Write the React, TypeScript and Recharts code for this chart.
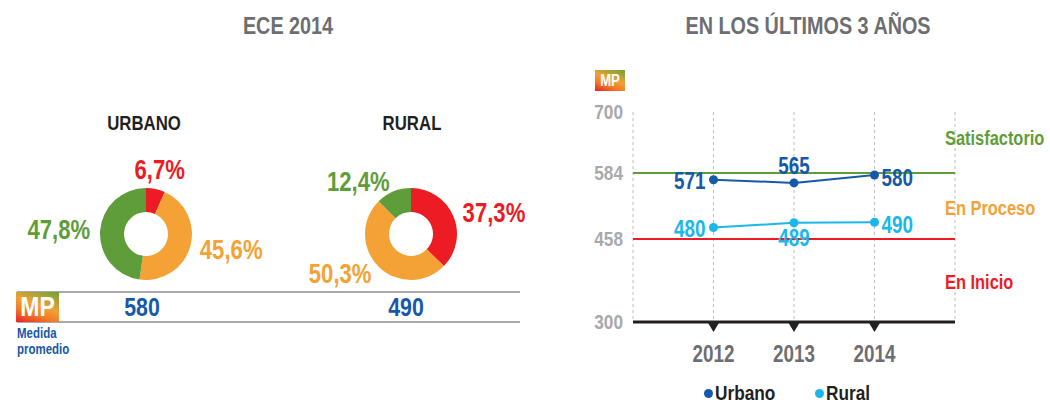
import { PieChart, Pie, Cell, LineChart, Line, XAxis, YAxis, CartesianGrid, ReferenceLine, LabelList, Legend } from 'recharts';

// no condensed face is installed, so a bold sans is squeezed horizontally
const FONT = "'Liberation Sans', Arial, sans-serif";
const SX = 0.82;

const GREEN = '#5f9d3a';
const ORANGE = '#f4a235';
const RED = '#ed1c24';
const BLUE = '#1659a8';
const LIGHT = '#1bb7ea';
const GRAY = '#6d6e71';

// achievement levels (ECE 2014, % of students)
const levels = ['En Inicio', 'En Proceso', 'Satisfactorio'];
const levelColors = [RED, ORANGE, GREEN];
const urbanoPct = [6.7, 45.6, 47.8];
const ruralPct = [37.3, 50.3, 12.4];

const areas = ['URBANO', 'RURAL'];
const areaMP = [580, 490];

// medida promedio, last 3 years
const years = [2012, 2013, 2014];
const urbanoMP = [571, 565, 580];
const ruralMP = [480, 489, 490];
const yTicks = [300, 458, 584, 700];
const cutSatisfactorio = 584;
const cutProceso = 458;

const seriesNames = ['Urbano', 'Rural'];
const seriesColors = [BLUE, LIGHT];

const urbanoData = levels.map((name, i) => ({ name, value: urbanoPct[i] }));
const ruralData = levels.map((name, i) => ({ name, value: ruralPct[i] }));
const lineData = years.map((year, i) => ({ year, urbano: urbanoMP[i], rural: ruralMP[i] }));

const RAD = Math.PI / 180;

// svg text squeezed around its anchor point
function NText({ x, y, anchor = 'middle', size, color, children }: any) {
  return (
    <text
      transform={`translate(${x},${y}) scale(${SX},1)`}
      x={0}
      y={0}
      textAnchor={anchor}
      dominantBaseline="central"
      fill={color}
      fontSize={size}
      fontWeight={700}
      fontFamily={FONT}
    >
      {children}
    </text>
  );
}

function pieLabel(props: any) {
  const { cx, cy, midAngle, outerRadius, index, value } = props;
  const c = Math.cos(-midAngle * RAD);
  const s = Math.sin(-midAngle * RAD);
  const anchor = Math.abs(c) < 0.3 ? 'middle' : c > 0 ? 'start' : 'end';
  const r = outerRadius + (anchor === 'middle' ? 20 : 10);
  return (
    <NText x={cx + r * c} y={cy + r * s} anchor={anchor} size={27} color={levelColors[index]}>
      {Number(value).toFixed(1).replace('.', ',')}%
    </NText>
  );
}

function YearTick({ x, y, payload }: any) {
  return (
    <g>
      <polygon points={`${x - 6},${y} ${x + 6},${y} ${x},${y + 10}`} fill="#231f20" />
      <NText x={x} y={y + 32} size={23} color={GRAY}>{payload.value}</NText>
    </g>
  );
}

function ValueTick({ x, y, payload }: any) {
  return <NText x={x} y={y} anchor="end" size={21} color="#a7a9ac">{payload.value}</NText>;
}

// where each value label sits around its dot
const urbanoPlaces = ['left', 'top', 'right'];
const ruralPlaces = ['left', 'bottom', 'right'];

const pointLabel = (color: string, places: string[]) => (props: any) => {
  const { x, y, value, index } = props;
  const p = places[index];
  let tx = x, ty = y, anchor = 'middle';
  if (p === 'left') { tx = x - 8; ty = y + 1; anchor = 'end'; }
  if (p === 'right') { tx = x + 7; ty = y + 3; anchor = 'start'; }
  if (p === 'top') { ty = y - 17; }
  if (p === 'bottom') { ty = y + 15; }
  return <NText x={tx} y={ty} anchor={anchor} size={23} color={color}>{value}</NText>;
};

function LegendContent() {
  return (
    <div style={{ display: 'flex', gap: 26, marginLeft: 124, height: 34, paddingTop: 8, boxSizing: 'border-box', alignItems: 'center' }}>
      {seriesNames.map((n, i) => (
        <div key={n} style={{ display: 'flex', alignItems: 'center', gap: 2 }}>
          <span style={{ width: 9, height: 9, borderRadius: 5, background: seriesColors[i], display: 'inline-block' }} />
          <span style={{ fontSize: 21, fontWeight: 700, color: '#231f20', fontFamily: FONT, display: 'inline-block', transform: `scaleX(${SX})`, transformOrigin: 'left center' }}>{n}</span>
        </div>
      ))}
    </div>
  );
}

function Txt({ x, y, size, color, anchor = 'middle', sx = SX, children }: any) {
  const w = 400;
  const left = anchor === 'middle' ? x - w / 2 : anchor === 'end' ? x - w : x;
  const origin = anchor === 'middle' ? 'center' : anchor === 'end' ? 'right' : 'left';
  return (
    <div
      style={{
        position: 'absolute',
        left,
        width: w,
        top: y - size * 0.6,
        lineHeight: `${size * 1.2}px`,
        fontSize: size,
        fontWeight: 700,
        color,
        textAlign: origin as any,
        whiteSpace: 'nowrap',
        transform: `scaleX(${sx})`,
        transformOrigin: `${origin} center`,
      }}
    >
      {children}
    </div>
  );
}

function Badge({ x, y, w, h, size }: any) {
  return (
    <div
      style={{
        position: 'absolute',
        left: x,
        top: y,
        width: w,
        height: h,
        background: 'linear-gradient(200deg, #6aa43a 0%, #f2a035 45%, #f07a26 70%, #e8202a 100%)',
        overflow: 'hidden',
      }}
    >
      <div style={{ color: '#fff', fontSize: size, fontWeight: 700, lineHeight: `${h}px`, textAlign: 'center', transform: `scaleX(${SX})` }}>MP</div>
    </div>
  );
}

export default function App() {
  return (
    <div style={{ position: 'absolute', left: 0, top: 0, width: 1050, height: 406, background: '#fff', fontFamily: FONT, overflow: 'hidden' }}>
      {/* left: ECE 2014 donuts */}
      <Txt x={288} y={27} size={23} sx={0.86} color={GRAY}>ECE 2014</Txt>
      <Txt x={144} y={123} size={20} sx={0.84} color="#231f20">{areas[0]}</Txt>
      <Txt x={412} y={123} size={20} sx={0.84} color="#231f20">{areas[1]}</Txt>

      <div style={{ position: 'absolute', left: 0, top: 0 }}>
        <PieChart width={530} height={406}>
          <Pie data={urbanoData} dataKey="value" cx={141} cy={229} innerRadius={22} outerRadius={46} startAngle={90} endAngle={-270} stroke="none" label={pieLabel} labelLine={false} isAnimationActive={false}>
            {urbanoData.map((d, i) => <Cell key={d.name} fill={levelColors[i]} />)}
          </Pie>
          <Pie data={ruralData} dataKey="value" cx={406} cy={229} innerRadius={22} outerRadius={46} startAngle={90} endAngle={-270} stroke="none" label={pieLabel} labelLine={false} isAnimationActive={false}>
            {ruralData.map((d, i) => <Cell key={d.name} fill={levelColors[i]} />)}
          </Pie>
        </PieChart>
      </div>

      <div style={{ position: 'absolute', left: 17, top: 291, width: 503, height: 2, background: '#a7a9ac' }} />
      <div style={{ position: 'absolute', left: 17, top: 321, width: 503, height: 2, background: '#a7a9ac' }} />
      <Badge x={16} y={292} w={43} h={30} size={28} />
      <Txt x={142} y={308} size={26} color={BLUE}>{areaMP[0]}</Txt>
      <Txt x={406} y={308} size={26} color={BLUE}>{areaMP[1]}</Txt>
      <Txt x={17} y={333} size={14} color={BLUE} anchor="start">Medida</Txt>
      <Txt x={17} y={349} size={14} color={BLUE} anchor="start">promedio</Txt>

      {/* right: last 3 years */}
      <Txt x={808} y={27} size={23} sx={0.86} color={GRAY}>EN LOS ÚLTIMOS 3 AÑOS</Txt>
      <Badge x={595} y={70} w={30} h={21} size={16} />

      <div style={{ position: 'absolute', left: 580, top: 60 }}>
        <LineChart width={470} height={346} data={lineData} margin={{ top: 52, right: 95, left: 0, bottom: 0 }}>
          <CartesianGrid horizontal={false} strokeDasharray="3 3" stroke="#bdbdbd" />
          <XAxis
            dataKey="year"
            type="number"
            domain={[2011, 2015]}
            ticks={years}
            interval={0}
            height={50}
            axisLine={{ stroke: '#231f20', strokeWidth: 3 }}
            tickLine={false}
            tickSize={0}
            tickMargin={0}
            tick={<YearTick />}
          />
          <YAxis
            type="number"
            domain={[300, 700]}
            ticks={yTicks}
            interval={0}
            width={53}
            axisLine={false}
            tickLine={false}
            tickSize={0}
            tickMargin={10}
            tick={<ValueTick />}
          />
          <ReferenceLine y={cutSatisfactorio} stroke={GREEN} strokeWidth={2} />
          <ReferenceLine y={cutProceso} stroke={RED} strokeWidth={2} />
          <Line dataKey="urbano" name="Urbano" stroke={BLUE} strokeWidth={2} dot={{ r: 4.5, fill: BLUE, stroke: BLUE, strokeWidth: 0 }} isAnimationActive={false}>
            <LabelList dataKey="urbano" content={pointLabel(BLUE, urbanoPlaces)} />
          </Line>
          <Line dataKey="rural" name="Rural" stroke={LIGHT} strokeWidth={2} dot={{ r: 4.5, fill: LIGHT, stroke: LIGHT, strokeWidth: 0 }} isAnimationActive={false}>
            <LabelList dataKey="rural" content={pointLabel(LIGHT, ruralPlaces)} />
          </Line>
          <Legend verticalAlign="bottom" height={34} content={<LegendContent />} />
        </LineChart>
      </div>

      <Txt x={945} y={138} size={20} color={GREEN} anchor="start">Satisfactorio</Txt>
      <Txt x={945} y={208} size={20} color={ORANGE} anchor="start">En Proceso</Txt>
      <Txt x={945} y={282} size={20} color={RED} anchor="start">En Inicio</Txt>
    </div>
  );
}
